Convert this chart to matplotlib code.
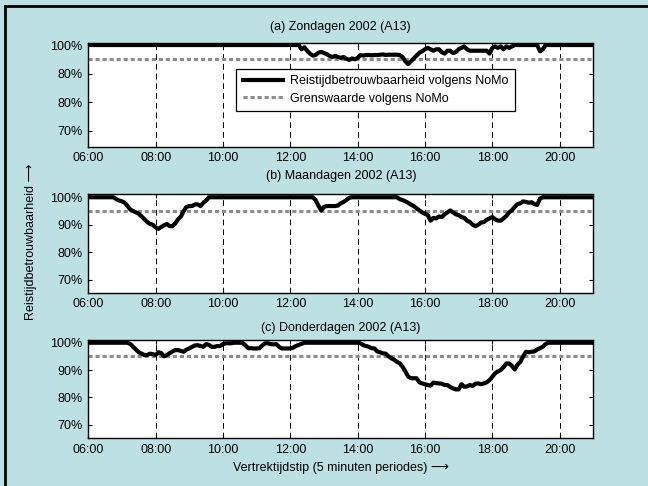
import matplotlib
matplotlib.use("Agg")
import matplotlib.pyplot as plt
from matplotlib.lines import Line2D

plt.rcParams['font.family'] = ['Liberation Sans', 'DejaVu Sans']
plt.rcParams['font.size'] = 9

# ---- data (5-minute periods, 06:00 .. 21:00) ----
start_hour = 6
step_minutes = 5

zondagen = [
    100, 100, 100, 100, 100, 100, 100, 100, 100, 100, 100, 100,          # 06
    100, 100, 100, 100, 100, 100, 100, 100, 100, 100, 100, 100,          # 07
    100, 100, 100, 100, 100, 100, 100, 100, 100, 100, 100, 100,          # 08
    100, 100, 100, 100, 100, 100, 100, 100, 100, 100, 100, 100,          # 09
    100, 100, 100, 100, 100, 100, 100, 100, 100, 100, 100, 100,          # 10
    100, 100, 100, 100, 100, 100, 100, 100, 100, 100, 100, 100,          # 11
    100, 100, 100, 100, 98.5, 99.2, 98, 97, 96.3, 96.5, 97.3, 97.6,      # 12
    97.2, 96.8, 96.2, 95.8, 96.2, 95.8, 95.5, 95.8, 95.2, 94.8, 95.3, 95,  # 13
    95.5, 96.5, 96.3, 96.5, 96.5, 96.4, 96.5, 96.5, 96.6, 96.7, 96.5, 96.6,  # 14
    96.6, 96.6, 96.6, 96.5, 95.8, 94.3, 93.3, 94.3, 95.3, 96.3, 97.3, 97.8,  # 15
    98.5, 99, 98.5, 98, 98.5, 98.5, 97.5, 97, 98, 98, 97.2, 97.5,        # 16
    98.5, 99, 99.5, 98.5, 98, 98, 98, 98, 98, 98, 98, 97,                # 17
    99, 99.5, 99, 99.5, 98.5, 99.5, 99, 99.5, 100, 100, 100, 100,        # 18
    100, 100, 100, 100, 100, 97.8, 98.5, 100, 100, 100, 100, 100,        # 19
    100, 100, 100, 100, 100, 100, 100, 100, 100, 100, 100, 100,          # 20
    100,                                                                 # 21:00
]

maandagen = [
    100, 100, 100, 100, 100, 100, 100, 100, 100, 100, 99.3, 98.8,        # 06
    98.5, 98, 96.8, 95.5, 95, 94.5, 94, 93, 92, 91, 90.3, 90,            # 07
    89, 88.5, 89.2, 89.8, 90.3, 89.5, 89.5, 90.5, 92, 93, 95, 96.5,      # 08
    96.8, 96.8, 97.4, 97.4, 96.8, 98, 98.8, 100, 100, 100, 100, 100,     # 09
    100, 100, 100, 100, 100, 100, 100, 100, 100, 100, 100, 100,          # 10
    100, 100, 100, 100, 100, 100, 100, 100, 100, 100, 100, 100,          # 11
    100, 100, 100, 100, 100, 100, 100, 100, 100, 99, 97, 95.2,           # 12
    96.5, 96.8, 96.8, 96.8, 96.8, 97, 97.8, 98.3, 99, 99.8, 100, 100,    # 13
    100, 100, 100, 100, 100, 100, 100, 100, 100, 100, 100, 100,          # 14
    100, 100, 100, 99.3, 99, 98.5, 98, 97.3, 96.8, 96, 95.2, 94.5,       # 15
    94, 93.5, 91.5, 92.5, 92.3, 93, 92.8, 93.8, 94.5, 95.2, 94.5, 93.8,  # 16
    93.5, 92.8, 92.5, 91.5, 91, 90, 89.5, 90, 90.8, 91, 91.8, 92.3,      # 17
    92.8, 92, 91.5, 91.5, 92.3, 93.2, 94.5, 95.3, 96.5, 97.5, 97.8, 98.5,  # 18
    98.3, 98, 98.2, 97.5, 97.2, 99.5, 100, 100, 100, 100, 100, 100,      # 19
    100, 100, 100, 100, 100, 100, 100, 100, 100, 100, 100, 100,          # 20
    100,                                                                 # 21:00
]

donderdagen = [
    100, 100, 100, 100, 100, 100, 100, 100, 100, 100, 100, 100,          # 06
    100, 100, 100, 99.5, 98.5, 97.5, 96.5, 96, 95.5, 95.5, 96, 95.8,     # 07
    95.5, 96.5, 96.2, 95, 95.5, 96.2, 96.8, 97.3, 97.3, 97, 96.7, 97.5,  # 08
    97.9, 98.5, 99, 99.1, 98.8, 98.5, 99.5, 99.2, 98.5, 98.5, 98.8, 98.8,  # 09
    99.5, 99.8, 99.8, 99.8, 100, 100, 100, 100, 99, 98, 98, 97.9,        # 10
    97.9, 98, 99, 99.8, 99.8, 99.5, 99.4, 99.5, 98.5, 97.9, 97.9, 97.9,  # 11
    97.9, 98.2, 98.8, 99.2, 99.6, 100, 100, 100, 100, 100, 100, 100,     # 12
    100, 100, 100, 100, 100, 100, 100, 100, 100, 100, 100, 100,          # 13
    100, 99.8, 99.1, 98.8, 98.5, 98, 97.9, 96.8, 96.5, 96.1, 96, 95,     # 14
    94.3, 93.8, 93, 92.5, 91.2, 89.5, 87.6, 87, 87, 87, 85.5, 85.1,      # 15
    84.8, 84.5, 84.3, 85.4, 85.2, 85.1, 85, 84.5, 84.5, 83.8, 83.3, 82.9,  # 16
    82.9, 84.8, 83.9, 84, 84.5, 84.2, 85, 85.1, 84.8, 85.1, 85.5, 86.3,  # 17
    87.5, 88.8, 89.5, 90, 91, 92.4, 92.4, 91.5, 90.2, 92, 93, 95,        # 18
    96.7, 96.5, 96.7, 96.8, 97.5, 98, 98.5, 99.5, 100, 100, 100, 100,    # 19
    100, 100, 100, 100, 100, 100, 100, 100, 100, 100, 100, 100,          # 20
    100,                                                                 # 21:00
]

grenswaarde = 95

titles = ["(a) Zondagen 2002 (A13)", "(b) Maandagen 2002 (A13)", "(c) Donderdagen 2002 (A13)"]
series = [zondagen, maandagen, donderdagen]
xtick_values = [6, 8, 10, 12, 14, 16, 18, 20]
xtick_labels = ["06:00", "08:00", "10:00", "12:00", "14:00", "16:00", "18:00", "20:00"]
ytick_values = [70, 80, 90, 100]
ytick_labels = [
    ["70%", "80%", "80%", "100%"],
    ["70%", "80%", "90%", "100%"],
    ["70%", "80%", "90%", "100%"],
]
legend_labels = ["Reistijdbetrouwbaarheid volgens NoMo", "Grenswaarde volgens NoMo"]
ylabel = "Reistijdbetrouwbaarheid \u27f6"
xlabel = "Vertrektijdstip (5 minuten periodes) \u27f6"

# ---- figure ----
W, H = 648, 486
bg = '#bde0e2'
fig = plt.figure(figsize=(W / 100, H / 100), dpi=100, facecolor=bg)

def px_axes(left, top, right, bottom):
    return [left / W, 1 - bottom / H, (right - left) / W, (bottom - top) / H]

axes_px = [
    (88.3, 43.3, 593.3, 146.7),
    (88.3, 194.5, 593.3, 292.7),
    (88.3, 340.0, 593.3, 438.3),
]
title_y_px = [27, 176, 328]
ylims = [(64.4, 100.6), (65.3, 101.0), (65.0, 101.0)]

axes = []
for i in range(3):
    ax = fig.add_axes(px_axes(*axes_px[i]))
    ax.set_facecolor('white')
    vals = series[i]
    t = [start_hour + k * step_minutes / 60 for k in range(len(vals))]
    ax.plot(t, vals, color='black', lw=3.0, solid_joinstyle='round', zorder=3,
            label=legend_labels[0])
    ax.axhline(grenswaarde, color='#8c8c8c', lw=2.2, dashes=(1.35, 0.95),
               dash_capstyle='butt', zorder=2, label=legend_labels[1])
    ax.set_xlim(6, 21)
    ax.set_ylim(*ylims[i])
    ax.set_xticks(xtick_values)
    ax.set_xticklabels(xtick_labels)
    ax.set_yticks(ytick_values)
    ax.set_yticklabels(ytick_labels[i])
    ax.tick_params(direction='in', length=3, width=0.8, top=True, right=True,
                   labelsize=9, pad=4)
    ax.grid(axis='x', color='black', lw=0.7, dashes=(6, 4))
    ax.set_axisbelow(True)
    for s in ax.spines.values():
        s.set_linewidth(1.0)
    fig.text((88.3 + 593.3) / 2 / W, 1 - title_y_px[i] / H, titles[i],
             ha='center', va='center', fontsize=9)
    axes.append(ax)

leg = axes[0].legend(loc='upper left', bbox_to_anchor=(236.4 / W, 1 - 69 / H),
                     bbox_transform=fig.transFigure, borderaxespad=0,
                     fontsize=9, frameon=True, fancybox=False, framealpha=1,
                     edgecolor='black', handlelength=3.2, handletextpad=0.6,
                     borderpad=0.5, labelspacing=0.45)
leg.get_frame().set_linewidth(0.9)

fig.text(31 / W, 1 - 242 / H, ylabel, rotation=90, ha='center', va='center', fontsize=9)
fig.text(340.8 / W, 1 - 468 / H, xlabel, ha='center', va='center', fontsize=9)

# frame lines (top and left)
fig.add_artist(Line2D([4.5 / W, 4.5 / W], [0, 1 - 6 / H], transform=fig.transFigure,
                      color='black', lw=2.0, solid_capstyle='projecting'))
fig.add_artist(Line2D([4.5 / W, 1], [1 - 6 / H, 1 - 6 / H], transform=fig.transFigure,
                      color='black', lw=2.0, solid_capstyle='projecting'))

fig.savefig('out.png', dpi=100, facecolor=bg)
